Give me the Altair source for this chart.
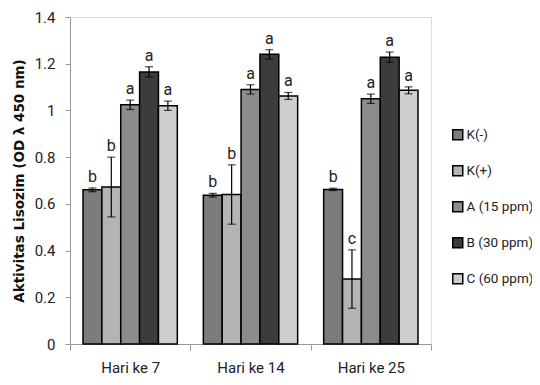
import altair as alt
import pandas as pd

groups = ["Hari ke 7", "Hari ke 14", "Hari ke 25"]
series = ["K(-)", "K(+)", "A (15 ppm)", "B (30 ppm)", "C (60 ppm)"]
means = {
    "K(-)": [0.66, 0.637, 0.662],
    "K(+)": [0.672, 0.64, 0.278],
    "A (15 ppm)": [1.024, 1.09, 1.05],
    "B (30 ppm)": [1.165, 1.24, 1.228],
    "C (60 ppm)": [1.02, 1.062, 1.086],
}
errs = {
    "K(-)": [0.008, 0.008, 0.005],
    "K(+)": [0.128, 0.127, 0.125],
    "A (15 ppm)": [0.02, 0.02, 0.02],
    "B (30 ppm)": [0.022, 0.02, 0.022],
    "C (60 ppm)": [0.02, 0.015, 0.015],
}
letters = {
    "K(-)": ["b", "b", "b"],
    "K(+)": ["b", "b", "c"],
    "A (15 ppm)": ["a", "a", "a"],
    "B (30 ppm)": ["a", "a", "a"],
    "C (60 ppm)": ["a", "a", "a"],
}
fills = ["#7c7c7c", "#b4b4b4", "#8c8c8c", "#3c3c3c", "#cfcfcf"]

rows = []
for s in series:
    for i, g in enumerate(groups):
        m = means[s][i]
        e = errs[s][i]
        rows.append({"group": g, "series": s, "mean": m, "lo": m - e, "hi": m + e, "letter": letters[s][i]})
df = pd.DataFrame(rows)

FONT = "Roboto"
TFONT = "DejaVu Sans"

x = alt.X("group:N", sort=groups, scale=alt.Scale(paddingInner=0, paddingOuter=0),
          axis=alt.Axis(title=None, labelAngle=0, tickBand="extent", labelFontSize=15,
                        labelPadding=10, tickSize=6, domainColor="#999999", tickColor="#999999",
                        labelColor="#222222", labelFont=FONT))
xo = alt.XOffset("series:N", sort=series, scale=alt.Scale(paddingInner=0, paddingOuter=0.69))

base = alt.Chart(df)

bars = base.mark_bar(stroke="black", strokeWidth=1.5).encode(
    x=x, xOffset=xo,
    y=alt.Y("mean:Q", scale=alt.Scale(domain=[0, 1.4]),
            axis=alt.Axis(title="Aktivitas Lisozim (OD λ 450 nm)", values=[0, 0.2, 0.4, 0.6, 0.8, 1, 1.2, 1.4],
                          format="~g", grid=False, tickSize=5, labelPadding=10, labelFontSize=15,
                          labelFont=FONT, labelColor="#222222", titleFont=TFONT, titleFontSize=13.5,
                          titleFontWeight="bold", titleColor="#111111", titlePadding=8,
                          domainColor="#999999", tickColor="#999999")),
    fill=alt.Fill("series:N", sort=series, scale=alt.Scale(domain=series, range=fills),
                  legend=alt.Legend(title=None, orient="none", legendX=381, legendY=111,
                                    symbolType="square", symbolSize=100, symbolStrokeColor="black",
                                    symbolStrokeWidth=1.5, labelFontSize=13.5, labelFont=FONT,
                                    labelColor="#222222", rowPadding=19, labelOffset=2,
                                    labelLimit=200)),
)

rules = base.mark_rule(color="black", strokeWidth=1.2).encode(
    x=x, xOffset=xo, y="lo:Q", y2="hi:Q")
caps_hi = base.mark_tick(color="black", thickness=1.2, size=8).encode(x=x, xOffset=xo, y="hi:Q")
caps_lo = base.mark_tick(color="black", thickness=1.2, size=8).encode(x=x, xOffset=xo, y="lo:Q")
labels = base.mark_text(font=FONT, fontSize=16, color="#222222", baseline="bottom", dy=-3).encode(
    x=x, xOffset=xo, y="hi:Q", text="letter:N")

chart = alt.layer(bars, rules, caps_hi, caps_lo, labels).properties(
    width=361, height=327,
    autosize=alt.AutoSizeParams(type="none"),
    padding={"left": 62, "top": 9, "right": 101, "bottom": 33},
).configure_view(stroke=None).configure(background="white")

chart.save("out.html", embed_options={"renderer": "svg", "actions": False})
